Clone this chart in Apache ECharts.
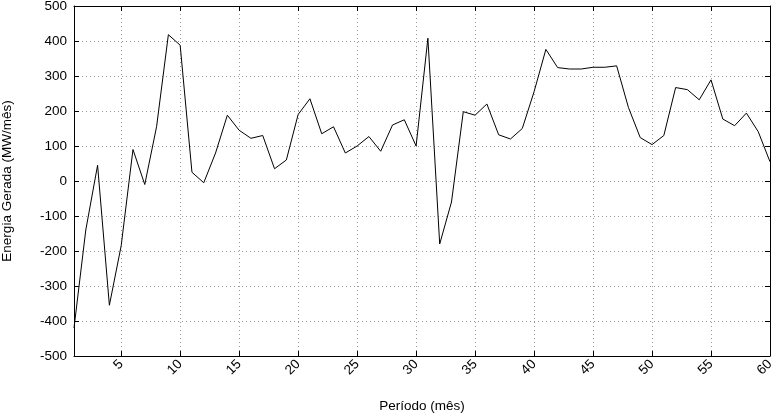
<!DOCTYPE html>
<html><head><meta charset="utf-8">
<script src="https://cdn.jsdelivr.net/npm/echarts@6/dist/echarts.min.js"></script>
<style>html,body{margin:0;padding:0;background:#fff}#c{width:775px;height:414px}</style>
</head><body><div id="c"></div>
<script>
const periods = [];
for (let i = 1; i <= 60; i++) periods.push(i);
const energia = [-420,-140,45,-355,-185,90,-10,155,418,388,
  25,-5,80,188,145,122,130,35,60,190,
  235,135,155,80,100,127,85,160,175,100,
  408,-180,-60,198,188,220,132,120,150,255,
  376,324,320,320,325,325,329,210,124,104,
  130,267,261,232,289,177,158,194,141,55];
const xTicks = [5,10,15,20,25,30,35,40,45,50,55,60];
const yTicks = [-500,-400,-300,-200,-100,0,100,200,300,400,500];

const font = 'Liberation Sans, Arial, sans-serif';
const chart = echarts.init(document.getElementById('c'));
const data = periods.map((p, i) => [p, energia[i]]);
chart.setOption({
  animation: false,
  grid: {left: 74, right: 5, top: 6, bottom: 58, containLabel: false, outerBoundsMode: 'none'},
  xAxis: [{
    type: 'value', min: 1, max: 60,
    name: 'Período (mês)', nameLocation: 'middle', nameGap: 43,
    nameTextStyle: {fontFamily: font, fontSize: 13.5, color: '#000'},
    axisLine: {show: true, onZero: false, lineStyle: {color: '#000', width: 1}},
    axisTick: {show: true, inside: true, length: 5, customValues: xTicks, lineStyle: {color: '#000'}},
    axisLabel: {customValues: xTicks, rotate: 45, fontFamily: font, fontSize: 13.5, color: '#000', margin: 6},
    splitLine: {show: true, lineStyle: {color: '#999', type: [1, 3], width: 1}}
  }, {
    type: 'value', min: 1, max: 60, position: 'top',
    axisLine: {show: true, onZero: false, lineStyle: {color: '#000', width: 1}},
    axisTick: {show: true, inside: true, length: 5, customValues: xTicks, lineStyle: {color: '#000'}},
    axisLabel: {show: false}, splitLine: {show: false}
  }],
  yAxis: [{
    type: 'value', min: -500, max: 500, interval: 100,
    name: 'Energia Gerada (MW/mês)', nameLocation: 'middle', nameGap: 60, nameRotate: 90,
    nameTextStyle: {fontFamily: font, fontSize: 13.5, color: '#000'},
    axisLine: {show: true, onZero: false, lineStyle: {color: '#000', width: 1}},
    axisTick: {show: true, inside: true, length: 5, lineStyle: {color: '#000'}},
    axisLabel: {fontFamily: font, fontSize: 13.5, color: '#000', margin: 7},
    splitLine: {show: true, lineStyle: {color: '#999', type: [1, 3], width: 1}}
  }, {
    type: 'value', min: -500, max: 500, interval: 100, position: 'right',
    axisLine: {show: true, onZero: false, lineStyle: {color: '#000', width: 1}},
    axisTick: {show: true, inside: true, length: 5, lineStyle: {color: '#000'}},
    axisLabel: {show: false}, splitLine: {show: false}
  }],
  series: [{
    type: 'line', data: data, xAxisIndex: 0, yAxisIndex: 0,
    symbol: 'none', lineStyle: {color: '#000', width: 1}
  }]
});
</script></body></html>
